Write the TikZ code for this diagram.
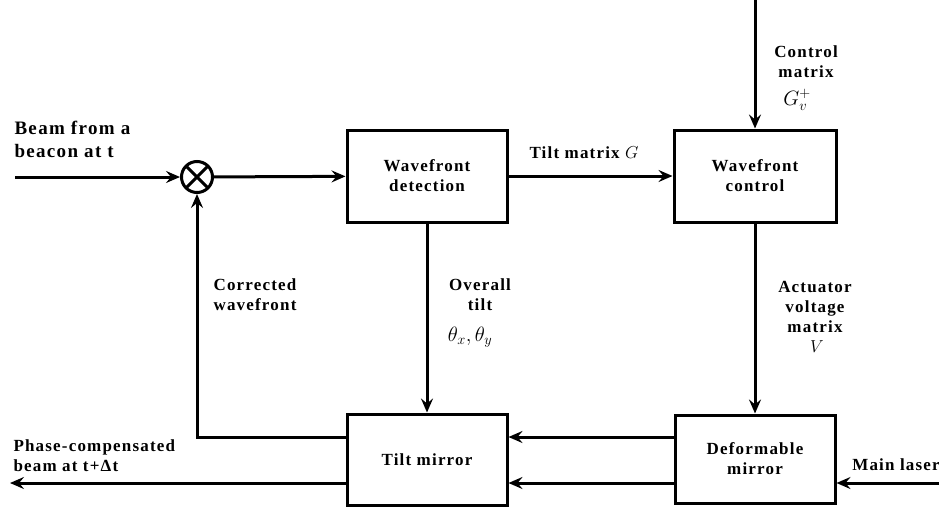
\documentclass[tikz,border=0pt]{standalone}
\usepackage{fontspec}
\setmainfont{Liberation Serif}[LetterSpace=7]
\usetikzlibrary{arrows.meta}

\begin{document}
\begin{tikzpicture}[x=1pt,y=-1pt,>={Stealth[length=14pt,width=12pt,inset=5pt]},line width=3pt,
  block/.style={draw,minimum width=160pt,minimum height=92pt,align=center,font=\fontsize{17}{20}\selectfont\bfseries},
  lab/.style={align=center,inner sep=0pt,font=\fontsize{17}{20}\selectfont\bfseries},
  sym/.style={inner sep=0pt,font=\fontsize{22}{24}\selectfont}]
  \useasboundingbox (0,0) rectangle (939,506);
  % blocks
  \node[block] (det) at (427,176) {Wavefront\\detection};
  \node[block,minimum width=162pt] (ctl) at (755,176) {Wavefront\\control};
  \node[block,minimum height=91pt] (tilt) at (427,459.5) {Tilt mirror};
  \node[block,minimum height=88pt] (def) at (755,459) {Deformable\\mirror};
  \node[draw,circle,minimum size=31pt,inner sep=0pt,
    path picture={\draw (path picture bounding box.north west)--(path picture bounding box.south east)
      (path picture bounding box.north east)--(path picture bounding box.south west);}] (sum) at (197,177) {};
  % free ends
  \coordinate (beamin) at (15,177);
  \coordinate (ctlin) at (755,0);
  \coordinate (laser) at (939,483);
  \coordinate (beamout) at (10,483);
  \coordinate (upper) at (0,437);
  \coordinate (lower) at (0,483);
  % connectors
  \draw[->] (beamin)--(sum);
  \draw[->] (sum)--(det);
  \draw[->] (det)--(ctl);
  \draw[->] (ctlin)--(ctl);
  \draw[->] (det)--(tilt);
  \draw[->] (ctl)--(def);
  \draw[->] (def.west |- upper)--(tilt.east |- upper);
  \draw[->] (def.west |- lower)--(tilt.east |- lower);
  \draw[->] (laser)--(def.east |- laser);
  \draw[->] (tilt.west |- lower)--(beamout);
  \draw[->] (tilt.west |- upper)-|(sum.south);
  % labels
  \node[lab,anchor=west,align=left,font=\fontsize{19}{23}\selectfont\bfseries] (beamlbl) at (13,139) {Beam from a\\beacon at t};
  \node[lab] (glbl) at (584,153) {Tilt matrix $G$};
  \node[lab] (cmlbl) at (806,62) {Control\\matrix};
  \node[sym] (gvlbl) at (797,100) {$G_v^{+}$};
  \node[lab] (cwlbl) at (255,295) {Corrected\\wavefront};
  \node[lab] (otlbl) at (480,295) {Overall\\tilt};
  \node[sym] (thlbl) at (470,337) {$\theta_x,\theta_y$};
  \node[lab] (avlbl) at (815,307) {Actuator\\voltage\\matrix};
  \node[sym,font=\fontsize{19}{20}\selectfont] (vlbl) at (817,347) {$V$};
  \node[lab,anchor=west,align=left] (outlbl) at (12,456) {Phase-compensated\\beam at t+Δt};
  \node[lab] (mllbl) at (896,465) {Main laser};
\end{tikzpicture}
\end{document}
